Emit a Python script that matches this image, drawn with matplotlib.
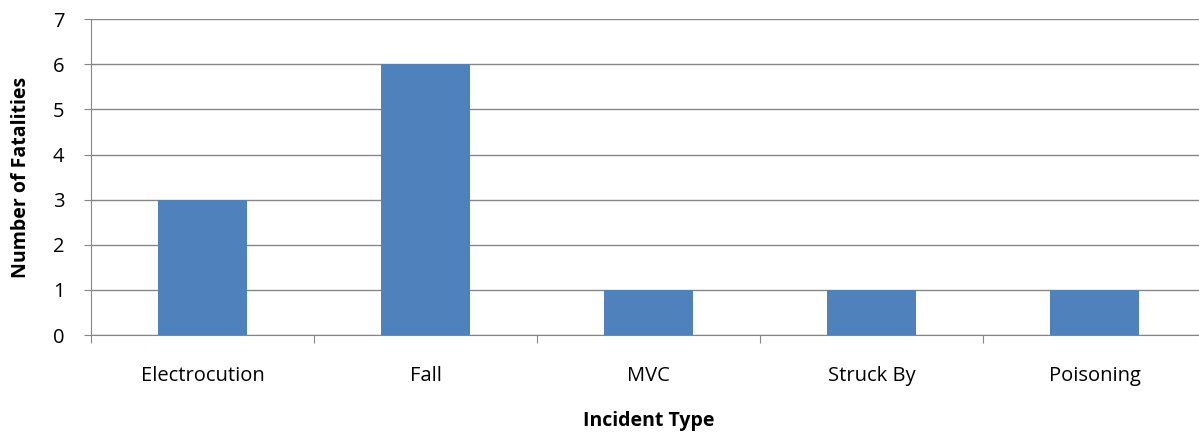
import matplotlib
matplotlib.use("Agg")
import matplotlib.pyplot as plt
import numpy as np

categories = ["Electrocution", "Fall", "MVC", "Struck By", "Poisoning"]
fatalities = [3, 6, 1, 1, 1]
y_ticks = [0, 1, 2, 3, 4, 5, 6, 7]

plt.rcParams['font.family'] = ['Open Sans', 'DejaVu Sans']

fig = plt.figure(figsize=(11.99, 4.32), dpi=100)
ax = fig.add_axes([0.0759, 0.2245, 0.930, 0.731])

x = np.arange(len(categories))
ax.bar(x, fatalities, width=0.4, color="#4F81BD", zorder=3)

ax.set_xlim(-0.5, len(categories) - 0.5)
ax.set_ylim(0, 7)
ax.set_yticks(y_ticks)
ax.yaxis.grid(True, color="#868686", linewidth=1, zorder=0)

# category boundary ticks on the x axis
ax.set_xticks(np.arange(-0.5, len(categories)), minor=False)
ax.set_xticklabels([])
ax.set_xticks(x, minor=True)
ax.set_xticklabels(categories, minor=True, fontsize=14.5)
ax.tick_params(axis="x", which="major", length=6, color="#868686", direction="out")
ax.tick_params(axis="x", which="minor", length=0, pad=22)
ax.tick_params(axis="y", length=5, color="#868686", labelsize=14.5, pad=14)

for s in ["top", "right"]:
    ax.spines[s].set_visible(False)
for s in ["left", "bottom"]:
    ax.spines[s].set_color("#868686")

ax.set_xlabel("Incident Type", fontsize=14, fontweight="bold", labelpad=18)
ax.set_ylabel("Number of Fatalities", fontsize=14, fontweight="bold", labelpad=16)

fig.savefig("out.png", dpi=100)
